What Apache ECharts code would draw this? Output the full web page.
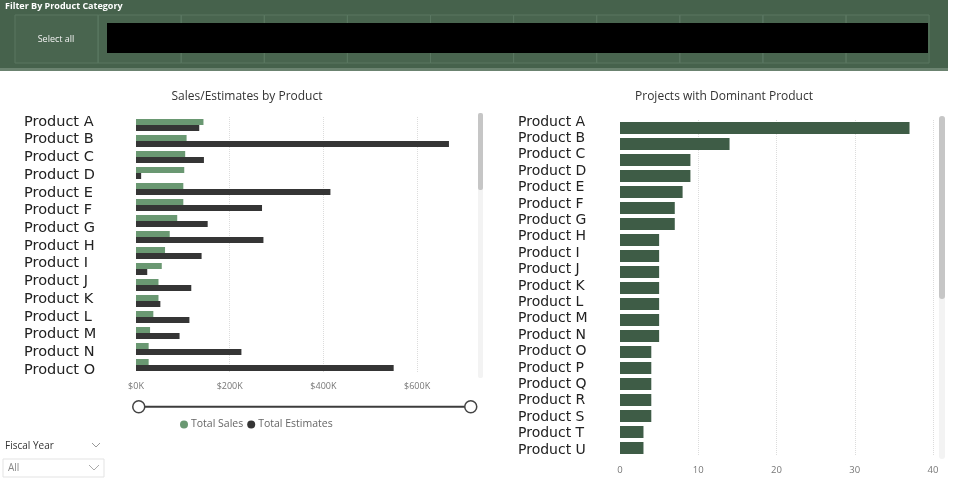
<!DOCTYPE html>
<html>
<head>
<meta charset="utf-8">
<script src="https://cdn.jsdelivr.net/npm/echarts@6/dist/echarts.min.js"></script>
<style>
  html, body { margin: 0; padding: 0; background: #fff; }
  #main { width: 968px; height: 487px; }
</style>
</head>
<body>
<div id="main"></div>
<script>
// 左图：销售额 / 预估
const salesProducts = ['Product A', 'Product B', 'Product C', 'Product D', 'Product E', 'Product F', 'Product G', 'Product H',
  'Product I', 'Product J', 'Product K', 'Product L', 'Product M', 'Product N', 'Product O', 'Product P']
const salesLabels = ['Product A', 'Product B', 'Product C', 'Product D', 'Product E', 'Product F', 'Product G', 'Product H',
  'Product I', 'Product J', 'Product K', 'Product L', 'Product M', 'Product N', 'Product O']
const totalSales = [144000, 108000, 105000, 103000, 101000, 101000, 88000, 72000, 62000, 55000, 48000, 48000, 37000, 30000, 27000, 27000]
const totalEstimates = [135000, 668000, 145000, 11000, 415000, 269000, 153000, 272000, 140000, 24000, 118000, 52000, 114000, 93000, 225000, 550000]
const salesTickStep = 200000

// 右图：主导产品项目数
const projectProducts = ['Product A', 'Product B', 'Product C', 'Product D', 'Product E', 'Product F', 'Product G', 'Product H',
  'Product I', 'Product J', 'Product K', 'Product L', 'Product M', 'Product N', 'Product O', 'Product P', 'Product Q',
  'Product R', 'Product S', 'Product T', 'Product U']
const projectCounts = [37, 14, 9, 9, 8, 7, 7, 5, 5, 5, 5, 5, 5, 5, 4, 4, 4, 4, 4, 3, 3]
const projectTickStep = 10

const smallFont = '"Open Sans", "Noto Sans", sans-serif'
const labelFont = '"DejaVu Sans", sans-serif'

const chart = echarts.init(document.getElementById('main'))

// 顶部筛选栏 + 左下角年份筛选
const graphics = []
graphics.push({ type: 'rect', shape: { x: 0, y: 0, width: 948, height: 68 }, style: { fill: '#46624c' } })
graphics.push({ type: 'rect', shape: { x: 0, y: 68, width: 948, height: 3 }, style: { fill: '#6b8370' } })
for (let i = 0; i < 11; i++) {
  graphics.push({
    type: 'rect',
    shape: { x: 15 + i * 83.1, y: 15, width: 83.1, height: 48 },
    style: { fill: 'rgba(255,255,255,0.02)', stroke: '#5a7761', lineWidth: 1 }
  })
}
graphics.push({ type: 'rect', shape: { x: 107, y: 23, width: 821, height: 30 }, style: { fill: '#000' } })
graphics.push({ type: 'text', x: 5, y: 6, style: { text: 'Filter By Product Category', fill: '#fff', font: 'bold 9px ' + smallFont, textVerticalAlign: 'middle' } })
graphics.push({ type: 'text', x: 56, y: 39, style: { text: 'Select all', fill: '#f2f2f2', font: '9px ' + smallFont, textAlign: 'center', textVerticalAlign: 'middle' } })

// 图表标题
graphics.push({ type: 'text', x: 247, y: 97, style: { text: 'Sales/Estimates by Product', fill: '#333', font: '12px ' + smallFont, textAlign: 'center', textVerticalAlign: 'middle' } })
graphics.push({ type: 'text', x: 724, y: 97, style: { text: 'Projects with Dominant Product', fill: '#333', font: '12px ' + smallFont, textAlign: 'center', textVerticalAlign: 'middle' } })

// 滚动条
graphics.push({ type: 'rect', shape: { x: 478, y: 113, width: 5, height: 265, r: 2 }, style: { fill: '#f3f3f3' } })
graphics.push({ type: 'rect', shape: { x: 478, y: 113, width: 5, height: 77, r: 2 }, style: { fill: '#c6c6c6' } })
graphics.push({ type: 'rect', shape: { x: 939, y: 116, width: 6, height: 343, r: 3 }, style: { fill: '#f3f3f3' } })
graphics.push({ type: 'rect', shape: { x: 939, y: 116, width: 6, height: 183, r: 3 }, style: { fill: '#c6c6c6' } })

// Fiscal Year
graphics.push({ type: 'text', x: 5, y: 446, style: { text: 'Fiscal Year', fill: '#333', font: '10px ' + smallFont, textVerticalAlign: 'middle' } })
graphics.push({ type: 'polyline', shape: { points: [[92, 443], [96, 447], [100, 443]] }, style: { stroke: '#999', lineWidth: 1, fill: null } })
graphics.push({ type: 'rect', shape: { x: 3, y: 459, width: 101, height: 18 }, style: { fill: '#fff', stroke: '#e3e3e3', lineWidth: 1 } })
graphics.push({ type: 'text', x: 8, y: 468, style: { text: 'All', fill: '#888', font: '10px ' + smallFont, textVerticalAlign: 'middle' } })
graphics.push({ type: 'polyline', shape: { points: [[89, 465], [94, 470], [99, 465]] }, style: { stroke: '#aaa', lineWidth: 1, fill: null } })

const option = {
  animation: false,
  backgroundColor: '#fff',
  graphic: graphics,
  legend: {
    left: 175,
    top: 414,
    icon: 'circle',
    itemWidth: 8,
    itemHeight: 8,
    itemGap: 4,
    data: ['Total Sales', 'Total Estimates'],
    textStyle: { color: '#666', fontSize: 10.5, fontFamily: smallFont, padding: [0, 0, 0, -2] }
  },
  grid: [
    { left: 136, right: 490, top: 117, height: 256 },   // 左图柱子
    { left: 30, width: 10, top: 122, height: 248 },     // 左图类目文字
    { left: 620, right: 35, top: 120, height: 336 },    // 右图柱子
    { left: 524, width: 10, top: 122, height: 328 }     // 右图类目文字
  ],
  xAxis: [
    {
      gridIndex: 0, type: 'value', min: 0, max: 730000, interval: salesTickStep,
      axisLine: { show: false }, axisTick: { show: false },
      axisLabel: {
        showMaxLabel: false, margin: 9, color: '#777', fontSize: 9, fontFamily: smallFont,
        formatter: (v) => '$' + v / 1000 + 'K'
      },
      splitLine: { showMinLine: false, showMaxLine: false, lineStyle: { type: 'dotted', color: '#dcdcdc' } }
    },
    { gridIndex: 1, type: 'value', min: 0, max: 1, show: false },
    {
      gridIndex: 2, type: 'value', min: 0, max: 40, interval: projectTickStep,
      axisLine: { show: false }, axisTick: { show: false },
      axisLabel: { margin: 9, color: '#777', fontSize: 9.5, fontFamily: smallFont },
      splitLine: { showMinLine: false, lineStyle: { type: 'dotted', color: '#dcdcdc' } }
    },
    { gridIndex: 3, type: 'value', min: 0, max: 1, show: false }
  ],
  yAxis: [
    {
      gridIndex: 0, type: 'category', inverse: true, data: salesProducts,
      axisLine: { show: false }, axisTick: { show: false }, axisLabel: { show: false }
    },
    {
      gridIndex: 1, type: 'category', inverse: true, boundaryGap: false, data: salesLabels,
      axisLine: { show: false }, axisTick: { show: false }, splitLine: { show: false },
      axisLabel: { interval: 0, align: 'left', margin: 6, color: '#222', fontSize: 14.5, fontFamily: labelFont }
    },
    {
      gridIndex: 2, type: 'category', inverse: true, data: projectProducts,
      axisLine: { show: false }, axisTick: { show: false }, axisLabel: { show: false }
    },
    {
      gridIndex: 3, type: 'category', inverse: true, boundaryGap: false, data: projectProducts,
      axisLine: { show: false }, axisTick: { show: false }, splitLine: { show: false },
      axisLabel: { interval: 0, align: 'left', margin: 6, color: '#222', fontSize: 14, fontFamily: labelFont }
    }
  ],
  dataZoom: [{
    type: 'slider',
    xAxisIndex: 0,
    filterMode: 'none',
    left: 136,
    width: 334,
    top: 405,
    height: 2,
    start: 0,
    end: 100,
    showDetail: false,
    showDataShadow: false,
    brushSelect: false,
    moveHandleSize: 0,
    backgroundColor: 'transparent',
    borderColor: 'transparent',
    fillerColor: '#3c3c3c',
    handleIcon: 'circle',
    handleSize: 12,
    handleStyle: { color: '#fff', borderColor: '#444', borderWidth: 1.5 }
  }],
  series: [
    {
      name: 'Total Sales', type: 'bar', xAxisIndex: 0, yAxisIndex: 0,
      data: totalSales, barWidth: 6, barGap: '0%',
      itemStyle: { color: '#6a9872' }
    },
    {
      name: 'Total Estimates', type: 'bar', xAxisIndex: 0, yAxisIndex: 0,
      data: totalEstimates, barWidth: 6, barGap: '0%',
      itemStyle: { color: '#353535' }
    },
    {
      name: 'Projects', type: 'bar', xAxisIndex: 2, yAxisIndex: 2,
      data: projectCounts, barWidth: 12,
      itemStyle: { color: '#3e5c46' }
    }
  ]
}

chart.setOption(option)
</script>
</body>
</html>
